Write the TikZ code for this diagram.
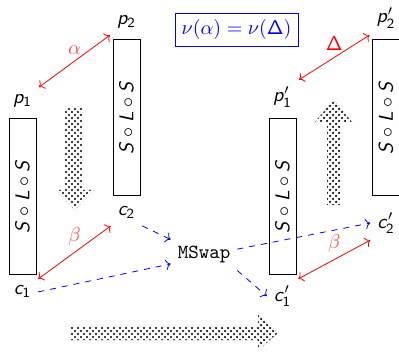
\documentclass[tikz,border=0pt]{standalone}
\usepackage{amsmath}
\usepackage{tikz}
\usetikzlibrary{arrows.meta, positioning, patterns, calc}
\DeclareMathAlphabet{\mathsfit}{OT1}{cmss}{m}{sl}
\newcommand{\sls}{$\mathsfit{S}\circ\mathsfit{L}\circ\mathsfit{S}$}
\pgfdeclarepatternformonly{bolddots}{\pgfqpoint{-1pt}{-1pt}}{\pgfqpoint{4pt}{4pt}}{\pgfqpoint{3pt}{3pt}}{%
  \pgfpathcircle{\pgfqpoint{0pt}{0pt}}{.62pt}%
  \pgfpathcircle{\pgfqpoint{1.5pt}{1.5pt}}{.62pt}%
  \pgfusepath{fill}}
\tikzstyle{slsbox} = [rectangle, draw=black, rotate=90, minimum width=78pt, minimum height=13.5pt, inner sep=0pt]
\tikzstyle{pair} = [red, <->]
\tikzstyle{swap} = [blue, dashed, ->]
\tikzstyle{fatarrow} = [pattern=bolddots, draw=black!45, densely dotted, line width=0.2pt]

\begin{document}
\begin{tikzpicture}[x=0.5pt, y=0.5pt]
  \useasboundingbox (0,0) rectangle (399,352);

  % before the swap
  \node[slsbox] (sls1) at (22.5,155.5) {\sls};
  \node[slsbox] (sls2) at (126.5,234.5) {\sls};
  \node[above=2pt of sls1.east] (p1) {$\mathsfit{p}_{\mathsf{1}}$};
  \node[below=2pt of sls1.west] (c1) {$\mathsfit{c}_{\mathsf{1}}$};
  \node[above=2pt of sls2.east] (p2) {$\mathsfit{p}_{\mathsf{2}}$};
  \node[below=2pt of sls2.west] (c2) {$\mathsfit{c}_{\mathsf{2}}$};

  % after the swap
  \node[slsbox] (sls3) at (282.5,155.5) {\sls};
  \node[slsbox] (sls4) at (386,234.5) {\sls};
  \node[above=2pt of sls3.east] (q1) {$\mathsfit{p}'_{\mathsf{1}}$};
  \node[below=2pt of sls3.west] (d1) {$\mathsfit{c}'_{\mathsf{1}}$};
  \node[above=2pt of sls4.east] (q2) {$\mathsfit{p}'_{\mathsf{2}}$};
  \node[below=5pt of sls4.west] (d2) {$\mathsfit{c}'_{\mathsf{2}}$};

  \node[draw=blue, text=blue] (inv) at (236.5,322) {$\nu(\alpha)=\nu(\mathsf{\Delta})$};
  \node (mswap) at (204,97) {\texttt{MSwap}};

  % pairs
  \draw[pair] (p1.north east) -- node[above, text=red!70]{$\alpha$} (p2.south west);
  \draw[pair] (c1.north east) -- node[above, text=red!70]{$\beta$} (c2.south west);
  \draw[pair] (q1.north east) -- node[above]{$\mathsf{\Delta}$} (q2.south west);
  \draw[pair] (d1.north east) -- node[above, text=red!70]{$\beta$} (d2.south west);

  % swap
  \draw[swap] (c2.south east) -- (mswap.north west);
  \draw[swap] (c1.east) -- (mswap.195);
  \draw[swap] (mswap.10) -- (d2.west);
  \draw[swap] (mswap.south east) -- (d1.west);

  % fat arrows
  \draw[fatarrow] (65,245) -- (83,245) -- (83,162) -- (94,162) -- (75,142) -- (56,162) -- (65,162) -- cycle;
  \draw[fatarrow] (327,147) -- (340,147) -- (340,230) -- (352,230) -- (333.5,252) -- (315,230) -- (327,230) -- cycle;
  \draw[fatarrow] (70,25) -- (258,25) -- (258,37) -- (278,19) -- (258,2) -- (258,12) -- (70,12) -- cycle;

\end{tikzpicture}
\end{document}
